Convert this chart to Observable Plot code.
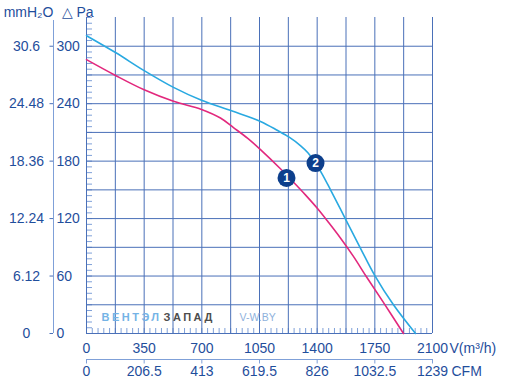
<!DOCTYPE html>
<html><head><meta charset="utf-8">
<script src="https://cdn.jsdelivr.net/npm/d3@7"></script>
<script src="https://cdn.jsdelivr.net/npm/@observablehq/plot@0.6"></script>
<style>body{margin:0;background:#fff}svg{display:block}</style>
</head><body><div id="chart"></div>
<script>
// ---- data ----
const flowTicks = [0, 350, 700, 1050, 1400, 1750, 2100];
const cfmLabels = ["0", "206.5", "413", "619.5", "826", "1032.5", "1239"];
const paTicks = [0, 60, 120, 180, 240, 300];
const mmLabels = ["0", "6.12", "12.24", "18.36", "24.48", "30.6"];

const curve1Flow = [0, 176, 350, 528, 698, 813, 892, 977, 1056, 1177, 1256, 1330, 1402, 1469, 1540, 1620, 1700, 1800, 1924];
const curve1Pa   = [286, 269.5, 254.5, 242.5, 234, 225, 215, 204, 192, 172, 158, 144.5, 130.5, 116, 100, 80.5, 59, 33, 0];
const curve2Flow = [0, 176, 350, 528, 698, 880, 1056, 1160, 1230, 1300, 1345, 1390, 1432, 1481, 1572, 1663, 1750, 1863, 1997];
const curve2Pa   = [311, 293.4, 274.5, 257, 243.5, 232.5, 221.5, 212, 205, 196, 188.5, 178, 166, 150, 119.5, 89, 60.5, 30, 0];

const markerFlow = [1214, 1390];
const markerPa = [162.5, 178];
const markerLabel = ["1", "2"];

// ---- layout ----
const W = 507, H = 382, L = 86, R = 432, T = 17, B = 333;
const XMAX = 2100, YMAX = 330;
const fx = px => (px - L) / (R - L) * XMAX;   // pixel -> flow units (for off-frame decorations)
const fy = py => (B - py) / (B - T) * YMAX;   // pixel -> Pa units

const gridC = "#4a70b8", minorC = "#7fa0d8", textC = "#1f4e9c";

const curve1 = curve1Flow.map((x, i) => ({x, y: curve1Pa[i]}));
const curve2 = curve2Flow.map((x, i) => ({x, y: curve2Pa[i]}));
const markers = markerFlow.map((x, i) => ({x, y: markerPa[i], t: markerLabel[i]}));

const chart = Plot.plot({
  width: W, height: H,
  marginLeft: L, marginRight: W - R, marginTop: T, marginBottom: H - B,
  x: {domain: [0, XMAX], axis: null},
  y: {domain: [0, YMAX], axis: null},
  style: {fontFamily: "'Liberation Sans', Arial, sans-serif", fontSize: "14px", background: "#fff", color: textC, overflow: "visible"},
  marks: [
    // minor ticks
    Plot.ruleY(d3.range(0, YMAX + 1, 6), {x1: 0, x2: fx(92), stroke: minorC, strokeWidth: 1}),
    Plot.ruleX(d3.range(0, XMAX + 1, 35), {y1: 0, y2: fy(328), stroke: minorC, strokeWidth: 1}),
    // grid
    Plot.ruleX(d3.range(0, XMAX + 1, 175), {y1: 0, y2: YMAX, stroke: gridC, strokeWidth: 1}),
    Plot.ruleY(d3.range(0, 301, 30), {x1: 0, x2: XMAX, stroke: gridC, strokeWidth: 1}),
    // mmH2O axis
    Plot.ruleX([fx(53)], {y1: 0, y2: fy(20), stroke: minorC, strokeWidth: 1}),
    Plot.ruleY(paTicks, {x1: fx(49.5), x2: fx(53), stroke: gridC, strokeWidth: 1}),
    // CFM axis
    Plot.ruleY([fy(359)], {x1: 0, x2: XMAX, stroke: minorC, strokeWidth: 1}),
    Plot.ruleX(flowTicks, {y1: fy(359), y2: fy(363.5), stroke: minorC, strokeWidth: 1}),
    // labels
    Plot.text(paTicks, {x: 0, y: d => d, dx: -30, textAnchor: "start", text: d => String(d), fill: textC}),
    Plot.text(paTicks, {x: 0, y: d => d, dx: -60, textAnchor: "middle", text: (d, i) => mmLabels[i], fill: textC}),
    Plot.text(flowTicks, {x: d => d, y: 0, dy: 15, text: d => String(d), fill: textC}),
    Plot.text(flowTicks, {x: d => d, y: 0, dy: 38, text: (d, i) => cfmLabels[i], fill: textC}),
    Plot.text(["V(m³/h)"], {x: XMAX, y: 0, dx: 17, dy: 15, textAnchor: "start", text: d => d, fill: textC}),
    Plot.text(["CFM"], {x: XMAX, y: 0, dx: 19, dy: 38, textAnchor: "start", text: d => d, fill: textC}),
    Plot.text(["mmH₂O"], {x: 0, y: YMAX, dx: -58, dy: -5, textAnchor: "middle", text: d => d, fill: textC}),
    Plot.text(["△ Pa"], {x: 0, y: YMAX, dx: -25, dy: -5, textAnchor: "start", text: d => d, fill: textC}),
    // watermark
    Plot.text(["ВЕНТЭЛ"], {x: fx(101), y: fy(317), textAnchor: "start", text: d => d, fill: "#74b3e6", fontWeight: "bold", fontSize: 11}),
    Plot.text(["ЗАПАД"], {x: fx(163), y: fy(317), textAnchor: "start", text: d => d, fill: "#4d4d4d", fontWeight: "bold", fontSize: 11}),
    Plot.text(["V-W.BY"], {x: fx(239), y: fy(317), textAnchor: "start", text: d => d, fill: "#8eb1dc", fontSize: 10.5}),
    // curves
    Plot.line(curve2, {x: "x", y: "y", stroke: "#29a9e1", strokeWidth: 1.6, curve: "catmull-rom"}),
    Plot.line(curve1, {x: "x", y: "y", stroke: "#e2287d", strokeWidth: 1.6, curve: "catmull-rom"}),
    // markers
    Plot.dot(markers, {x: "x", y: "y", r: 9, fill: "#0d3f8c", stroke: "none"}),
    Plot.text(markers, {x: "x", y: "y", text: "t", fill: "white", fontWeight: "bold", fontSize: 12})
  ]
});

d3.select(chart).selectAll("text")
  .filter(function() { return /ВЕНТЭЛ|ЗАПАД/.test(this.textContent); })
  .attr("letter-spacing", "2.5px");

document.getElementById("chart").appendChild(chart);
</script>
</body></html>
